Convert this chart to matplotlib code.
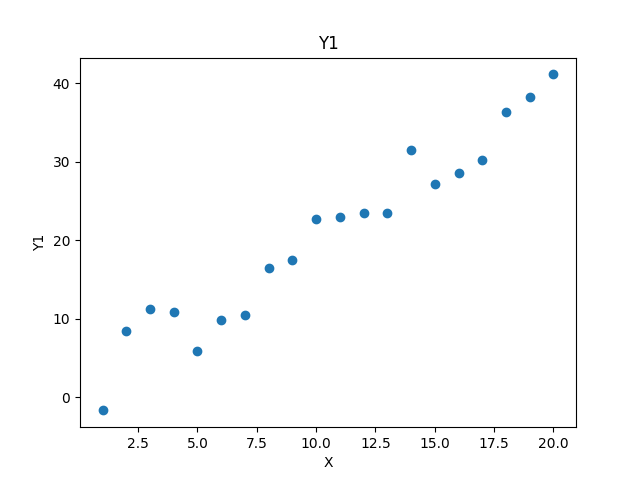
import matplotlib
matplotlib.use("Agg")
import matplotlib.pyplot as plt

# data
x = list(range(1, 21))
y1 = [-1.7, 8.4, 11.2, 10.8, 5.9, 9.8, 10.4, 16.5, 17.4, 22.7,
      22.9, 23.5, 23.4, 31.5, 27.1, 28.5, 30.2, 36.3, 38.2, 41.1]

fig, ax = plt.subplots(figsize=(6.4, 4.8), dpi=100)
ax.scatter(x, y1)
ax.set_title("Y1")
ax.set_xlabel("X")
ax.set_ylabel("Y1")
fig.savefig("out.png")
